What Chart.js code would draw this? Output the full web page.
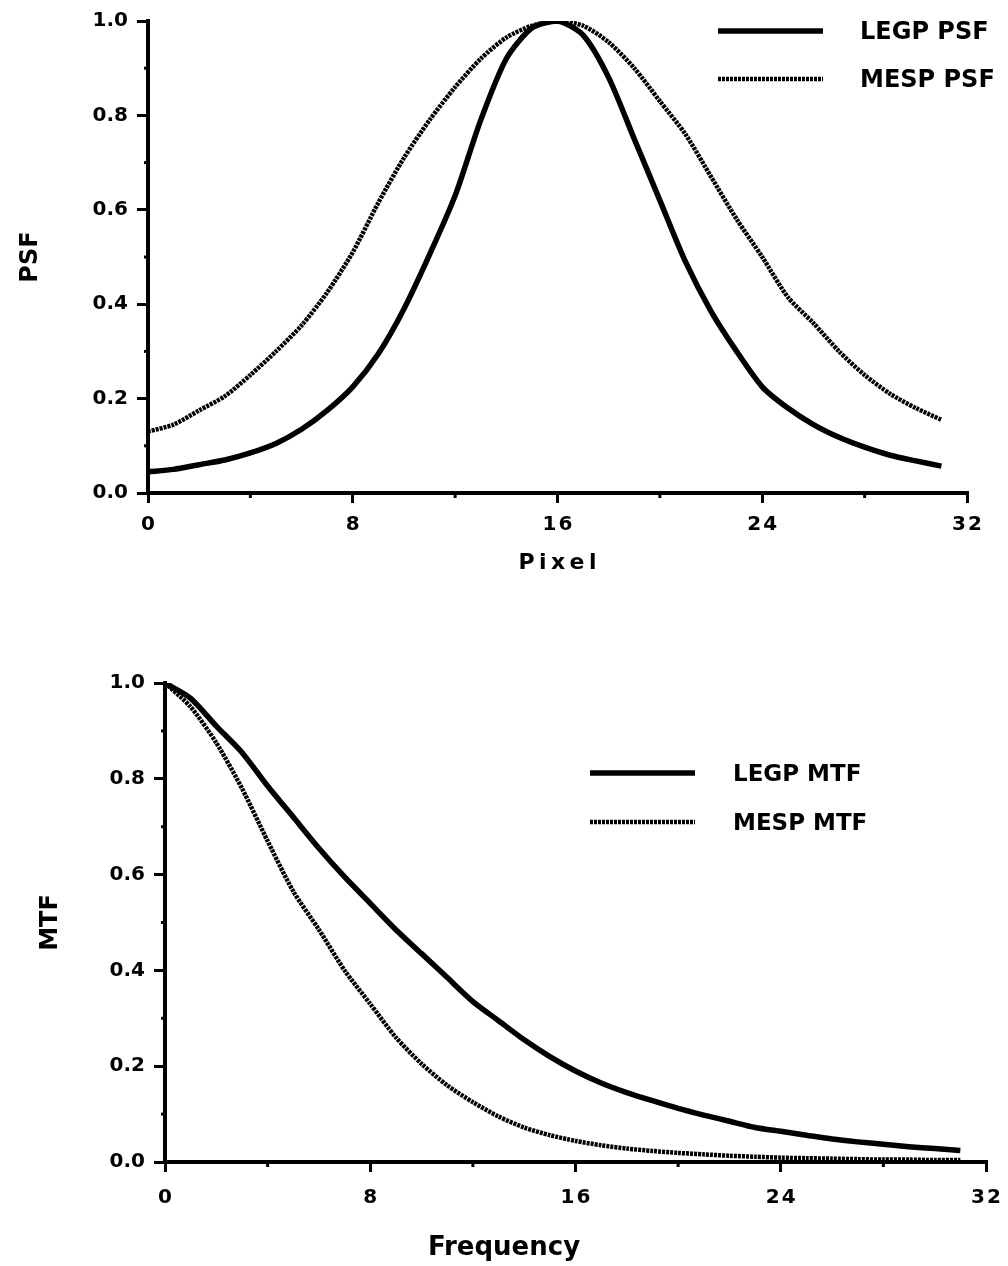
<!DOCTYPE html>
<html>
<head>
<meta charset="utf-8">
<script src="https://cdn.jsdelivr.net/npm/chart.js@4.4.1/dist/chart.umd.min.js"></script>
<style>
    html, body { margin: 0; padding: 0; background: #fff; }
    .panel { position: absolute; left: 0; width: 1008px; }
    #psfBox { top: 0; height: 610px; }
    #mtfBox { top: 630px; height: 636px; }
</style>
</head>
<body>
<div class="panel" id="psfBox"><canvas id="psfChart"></canvas></div>
<div class="panel" id="mtfBox"><canvas id="mtfChart"></canvas></div>
<script>
// sample positions (pixel index / frequency index)
const samples = [0, 1, 2, 3, 4, 5, 6, 7, 8, 9, 10, 11, 12, 13, 14, 15,
    16, 17, 18, 19, 20, 21, 22, 23, 24, 25, 26, 27, 28, 29, 30, 31];

const legpPsf = [0.045, 0.05, 0.06, 0.07, 0.085, 0.105, 0.135, 0.175, 0.225, 0.295, 0.39, 0.505, 0.63, 0.79, 0.92, 0.985,
    1.0, 0.97, 0.88, 0.75, 0.62, 0.49, 0.385, 0.3, 0.225, 0.18, 0.145, 0.118, 0.097, 0.08, 0.068, 0.057];
const mespPsf = [0.13, 0.145, 0.175, 0.205, 0.25, 0.3, 0.355, 0.425, 0.51, 0.615, 0.71, 0.79, 0.86, 0.92, 0.965, 0.99,
    1.0, 0.99, 0.955, 0.9, 0.83, 0.76, 0.67, 0.58, 0.5, 0.415, 0.36, 0.3, 0.25, 0.21, 0.18, 0.155];

const legpMtf = [1.0, 0.968, 0.91, 0.855, 0.785, 0.72, 0.655, 0.595, 0.54, 0.485, 0.435, 0.385, 0.335, 0.295, 0.255, 0.22,
    0.19, 0.165, 0.145, 0.128, 0.112, 0.098, 0.085, 0.072, 0.064, 0.056, 0.048, 0.042, 0.037, 0.032, 0.028, 0.024];
const mespMtf = [1.0, 0.95, 0.875, 0.78, 0.67, 0.565, 0.485, 0.4, 0.33, 0.26, 0.205, 0.16, 0.125, 0.095, 0.072, 0.056,
    0.044, 0.035, 0.028, 0.023, 0.019, 0.016, 0.013, 0.011, 0.009, 0.008, 0.007, 0.006, 0.005, 0.005, 0.004, 0.004];

const xTicks = [0, 8, 16, 24, 32];
const yTicks = [0, 0.2, 0.4, 0.6, 0.8, 1.0];

const ink = '#000000';
const fontFamily = "'DejaVu Sans', sans-serif";

const toPoints = (ys) => samples.map((x, i) => ({ x, y: ys[i] }));

// x tick labels in the original are slightly spaced out
const spaced = (s) => String(s).split('').join('\u200A');

// short unlabelled ticks between the major ones
const minorTicks = {
    id: 'minorTicks',
    afterDraw(chart, args, opts) {
        const { ctx } = chart;
        ctx.save();
        ctx.strokeStyle = ink;
        ctx.lineWidth = 3;
        const xs = chart.scales.x;
        const ys = chart.scales.y;
        opts.x.forEach((v) => {
            const px = xs.getPixelForValue(v);
            ctx.beginPath();
            ctx.moveTo(px, xs.top);
            ctx.lineTo(px, xs.top + 5);
            ctx.stroke();
        });
        opts.y.forEach((v) => {
            const py = ys.getPixelForValue(v);
            ctx.beginPath();
            ctx.moveTo(ys.right, py);
            ctx.lineTo(ys.right - 4, py);
            ctx.stroke();
        });
        ctx.restore();
    },
};

// legend drawn as line sample + bold label, like the original
const lineKey = {
    id: 'lineKey',
    afterDraw(chart, args, opts) {
        const { ctx } = chart;
        ctx.save();
        ctx.font = `bold ${opts.fontSize}px ${fontFamily}`;
        ctx.fillStyle = ink;
        ctx.textBaseline = 'middle';
        chart.data.datasets.forEach((ds, i) => {
            const y = opts.y + i * opts.gap;
            ctx.beginPath();
            ctx.strokeStyle = ds.borderColor;
            ctx.lineWidth = ds.borderWidth;
            ctx.lineCap = 'butt';
            ctx.setLineDash(ds.borderDash || []);
            ctx.moveTo(opts.x, y);
            ctx.lineTo(opts.x + opts.length, y);
            ctx.stroke();
            ctx.setLineDash([]);
            ctx.fillText(ds.label, opts.textX, y + 2);
        });
        ctx.restore();
    },
};

function buildChart(canvas, cfg) {
    return new Chart(canvas, {
        type: 'line',
        data: {
            datasets: [
                {
                    label: cfg.labels[0],
                    data: toPoints(cfg.solid),
                    borderColor: ink,
                    borderWidth: 5.5,
                    pointRadius: 0,
                    tension: 0.25,
                },
                {
                    label: cfg.labels[1],
                    data: toPoints(cfg.dotted),
                    borderColor: ink,
                    borderWidth: 4.5,
                    borderDash: [3, 1],
                    pointRadius: 0,
                    tension: 0.25,
                },
            ],
        },
        options: {
            responsive: true,
            maintainAspectRatio: false,
            animation: false,
            layout: { padding: cfg.padding },
            plugins: {
                legend: { display: false },
                tooltip: { enabled: false },
                minorTicks: { x: [4, 12, 20, 28], y: [0.1, 0.3, 0.5, 0.7, 0.9] },
                lineKey: cfg.key,
            },
            scales: {
                x: {
                    type: 'linear',
                    min: 0,
                    max: 32,
                    afterBuildTicks: (scale) => { scale.ticks = xTicks.map((value) => ({ value })); },
                    afterFit: (scale) => {
                        scale.height = cfg.xHeight;
                        scale.paddingLeft = 0;
                        scale.paddingRight = 0;
                    },
                    border: { display: true, color: ink, width: 4 },
                    grid: { drawOnChartArea: false, drawTicks: true, tickLength: 10, color: ink, lineWidth: 3 },
                    ticks: {
                        color: ink,
                        padding: cfg.xTickPad,
                        maxRotation: 0,
                        font: { family: fontFamily, size: 20, weight: 'bold' },
                        callback: (v) => spaced(v),
                    },
                    title: {
                        display: true,
                        text: cfg.xTitle,
                        color: ink,
                        font: { family: fontFamily, size: cfg.xTitleSize, weight: 'bold' },
                        padding: { top: 0, bottom: cfg.xTitlePad },
                    },
                },
                y: {
                    min: 0,
                    max: 1,
                    afterBuildTicks: (scale) => { scale.ticks = yTicks.map((value) => ({ value })); },
                    afterFit: (scale) => { scale.width = cfg.yWidth; },
                    border: { display: true, color: ink, width: 4 },
                    grid: { drawOnChartArea: false, drawTicks: true, tickLength: 11, color: ink, lineWidth: 3 },
                    ticks: {
                        color: ink,
                        padding: 9,
                        font: { family: fontFamily, size: 20, weight: 'bold' },
                        callback: (v) => Number(v).toFixed(1),
                    },
                    title: {
                        display: true,
                        text: cfg.yTitle,
                        color: ink,
                        font: { family: fontFamily, size: 24, weight: 'bold' },
                        padding: { top: cfg.yTitlePad, bottom: 0 },
                    },
                },
            },
        },
        plugins: [minorTicks, lineKey],
    });
}

buildChart(document.getElementById('psfChart'), {
    labels: ['LEGP PSF', 'MESP PSF'],
    solid: legpPsf,
    dotted: mespPsf,
    xTitle: 'P\u2009i\u2009x\u2009e\u2009l',
    xTitleSize: 22,
    xTitlePad: 34,
    xTickPad: 10,
    yTitle: 'PSF',
    yTitlePad: 16,
    yWidth: 148,
    xHeight: 117,
    padding: { top: 17, right: 41, bottom: 0, left: 0 },
    key: { x: 718, y: 31, gap: 48, length: 105, textX: 860, fontSize: 24 },
});

buildChart(document.getElementById('mtfChart'), {
    labels: ['LEGP MTF', 'MESP MTF'],
    solid: legpMtf,
    dotted: mespMtf,
    xTitle: 'Frequency\u2003\u2003\u2003\u2003\u2003\u2002',
    xTitleSize: 26,
    xTitlePad: 2,
    xTickPad: 14,
    yTitle: 'MTF',
    yTitlePad: 36,
    yWidth: 165,
    xHeight: 104,
    padding: { top: 53, right: 22, bottom: 0, left: 0 },
    key: { x: 590, y: 143, gap: 49, length: 105, textX: 733, fontSize: 23 },
});
</script>
</body>
</html>
